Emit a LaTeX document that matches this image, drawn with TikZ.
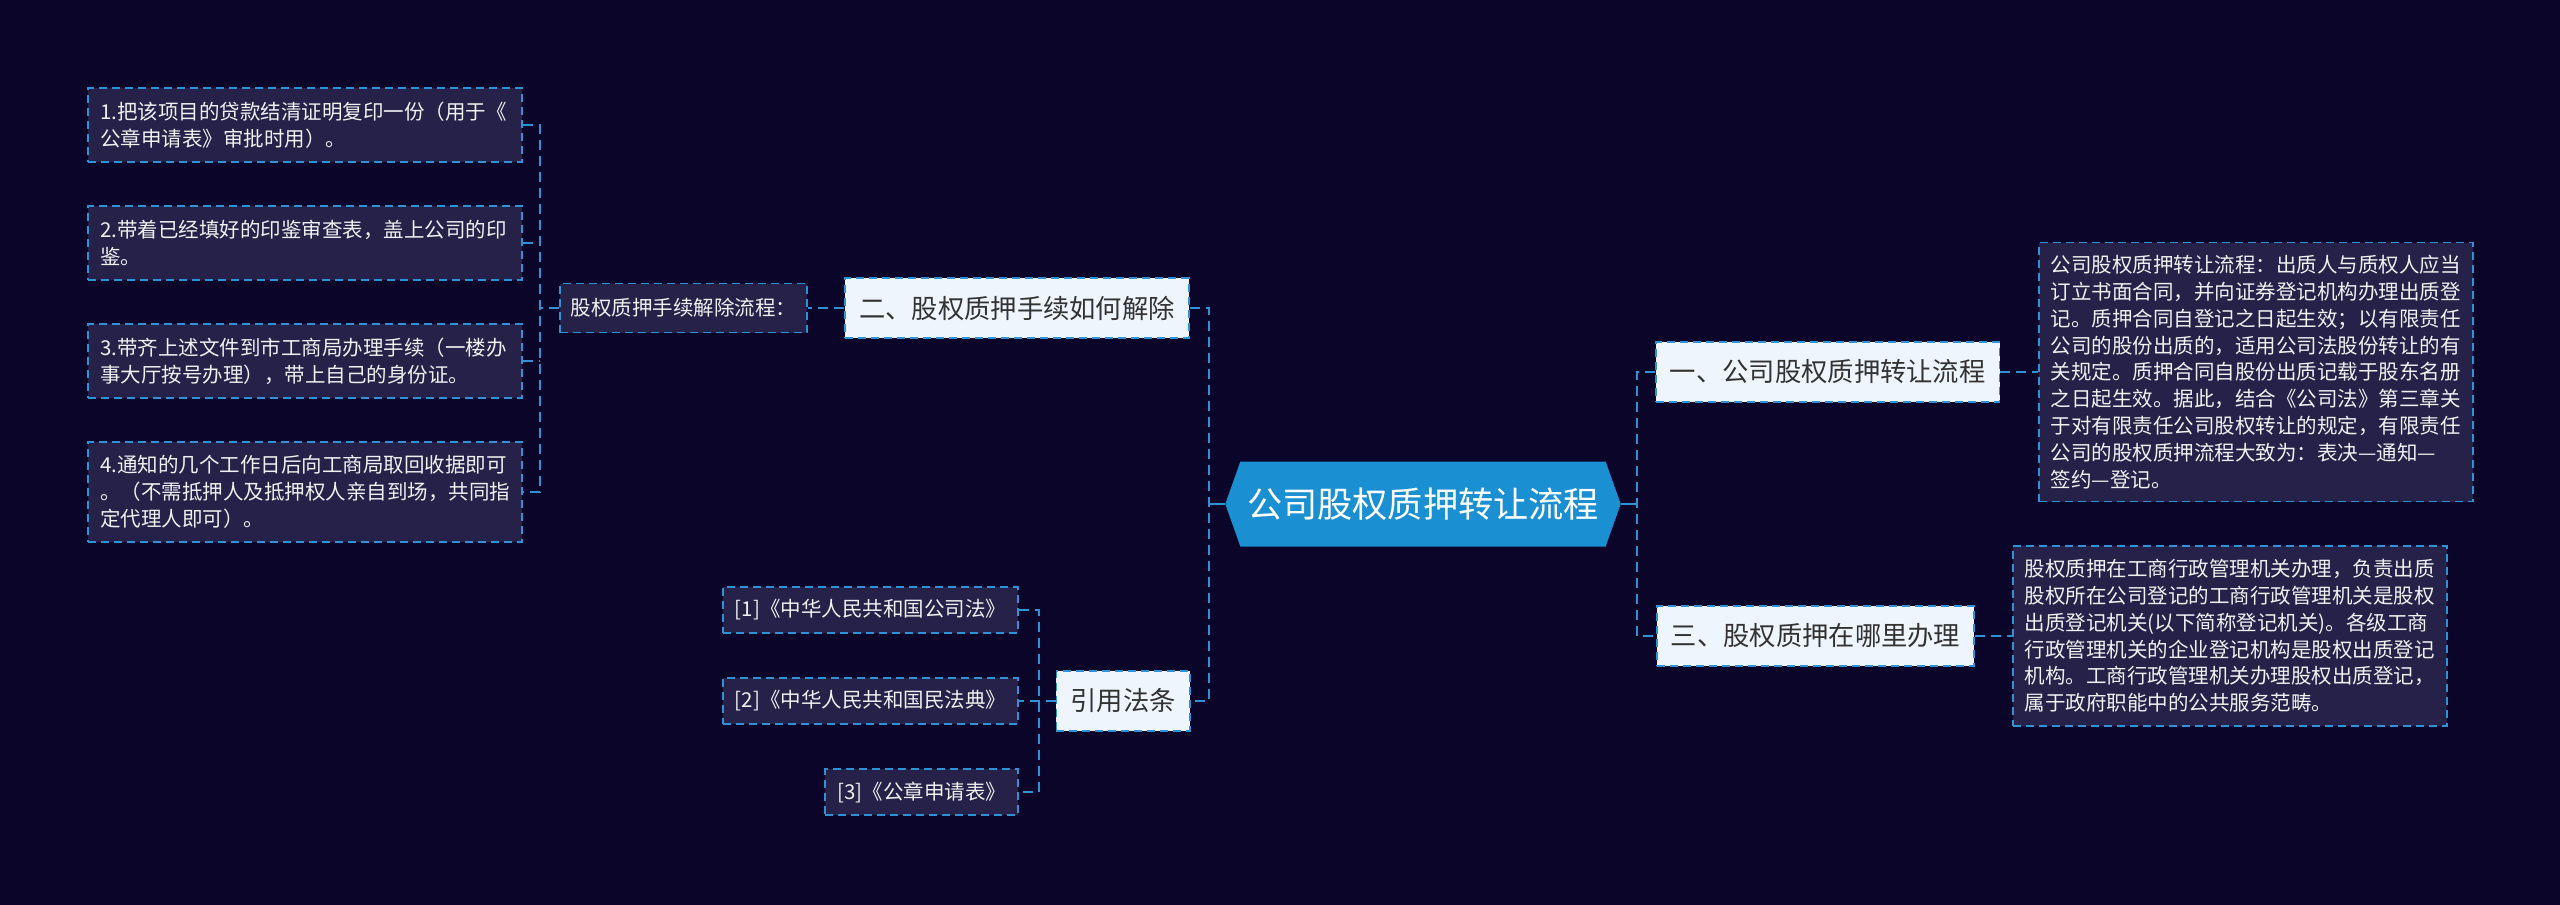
\documentclass[tikz,border=0pt]{standalone}
\usepackage{fontspec}
\setmainfont{Noto Sans CJK SC}
\usetikzlibrary{positioning, shapes.symbols}
\definecolor{NightBg}{HTML}{0B0629}
\definecolor{LeafFill}{HTML}{252149}
\definecolor{LinkBlue}{HTML}{2E93D6}
\definecolor{RootBlue}{HTML}{1A8FD2}
\definecolor{PaleFill}{HTML}{EEF5FD}
\definecolor{InkGray}{HTML}{333333}

\begin{document}
\begin{tikzpicture}[x=0.5pt, y=-0.5pt,
    leaf/.style={draw=LinkBlue, line width=0.9pt, dash pattern=on 4pt off 2.5pt, fill=LeafFill,
        text=white!94!black, font={\fontsize{10.25}{13.4}\selectfont}, align=left,
        inner xsep=6pt, inner ysep=0pt},
    note/.style={leaf, text width=205pt},
    branch/.style={draw=LinkBlue, line width=0.9pt, dash pattern=on 4pt off 2.5pt, fill=PaleFill,
        text=InkGray, font={\fontsize{13.15}{16}\selectfont}, inner xsep=7pt, minimum height=30pt},
    rootbox/.style={shape=signal, signal to=west and east, signal pointer angle=141, fill=RootBlue,
        text=white, font={\fontsize{17.6}{20}\selectfont}, minimum width=195pt, minimum height=42.5pt},
    link/.style={draw=LinkBlue, line width=1pt, dash pattern=on 5pt off 3pt},
    stem/.style={draw=LinkBlue, line width=1pt}]

\fill[NightBg] (0,0) rectangle (2560,905);

\node[rootbox] (root) at (1423,504) {公司股权质押转让流程};

% left side
\node[branch] (b2) at (1017,308) {二、股权质押手续如何解除};
\node[leaf, minimum height=24.5pt, inner xsep=5.5pt] (flow) at (683.5,308) {股权质押手续解除流程：};
\node[note, minimum height=37pt] (s1) at (305,125)
    {1.把该项目的贷款结清证明复印一份（用于《\\公章申请表》审批时用）。};
\node[note, minimum height=37pt] (s2) at (305,243)
    {2.带着已经填好的印鉴审查表，盖上公司的印\\鉴。};
\node[note, minimum height=37pt] (s3) at (305,361)
    {3.带齐上述文件到市工商局办理手续（一楼办\\事大厅按号办理），带上自己的身份证。};
\node[note, minimum height=50pt] (s4) at (305,492)
    {4.通知的几个工作日后向工商局取回收据即可\\。（不需抵押人及抵押权人亲自到场，共同指\\定代理人即可）。};

\node[branch] (law) at (1123,701) {引用法条};
\node[leaf, minimum height=23pt, anchor=east] (r1) at (1019,610) {[1]《中华人民共和国公司法》};
\node[leaf, minimum height=23pt, anchor=east] (r2) at (1019,701) {[2]《中华人民共和国民法典》};
\node[leaf, minimum height=23pt, anchor=east] (r3) at (1019,792) {[3]《公章申请表》};

% right side
\node[branch, anchor=west] (b1) at (1655,372) {一、公司股权质押转让流程};
\node[branch, anchor=west] (b3) at (1656,636) {三、股权质押在哪里办理};
\node[note, minimum height=129.5pt, anchor=west] (d1) at (2038,372)
    {公司股权质押转让流程：出质人与质权人应当\\订立书面合同，并向证券登记机构办理出质登\\记。质押合同自登记之日起生效；以有限责任\\公司的股份出质的，适用公司法股份转让的有\\关规定。质押合同自股份出质记载于股东名册\\之日起生效。据此，结合《公司法》第三章关\\于对有限责任公司股权转让的规定，有限责任\\公司的股权质押流程大致为：表决—通知—\\签约—登记。};
\node[note, minimum height=90pt, anchor=west] (d2) at (2012,636)
    {股权质押在工商行政管理机关办理，负责出质\\股权所在公司登记的工商行政管理机关是股权\\出质登记机关(以下简称登记机关)。各级工商\\行政管理机关的企业登记机构是股权出质登记\\机构。工商行政管理机关办理股权出质登记，\\属于政府职能中的公共服务范畴。};

\coordinate (lj) at (1209,504);
\coordinate (rj) at (1637,504);
\coordinate (fj) at (540,308);
\coordinate (cj) at (1039,701);

\draw[stem] (root.west) -- (lj);
\draw[stem] (root.east) -- (rj);
\draw[link] (b2.east) -| (lj) |- (law.east);
\draw[link] (b1.west) -| (rj) |- (b3.west);
\draw[link] (b2.west) -- (flow.east);
\draw[link] (flow.west) -- (fj);
\draw[link] (s1.east) -| (fj) |- (s4.east);
\draw[link] (s2.east) -- (s2.east -| fj);
\draw[link] (s3.east) -- (s3.east -| fj);
\draw[link] (law.west) -- (r2.east);
\draw[link] (r1.east) -| (cj) |- (r3.east);
\draw[link] (b1.east) -- (d1.west);
\draw[link] (b3.east) -- (d2.west);

\end{tikzpicture}
\end{document}
